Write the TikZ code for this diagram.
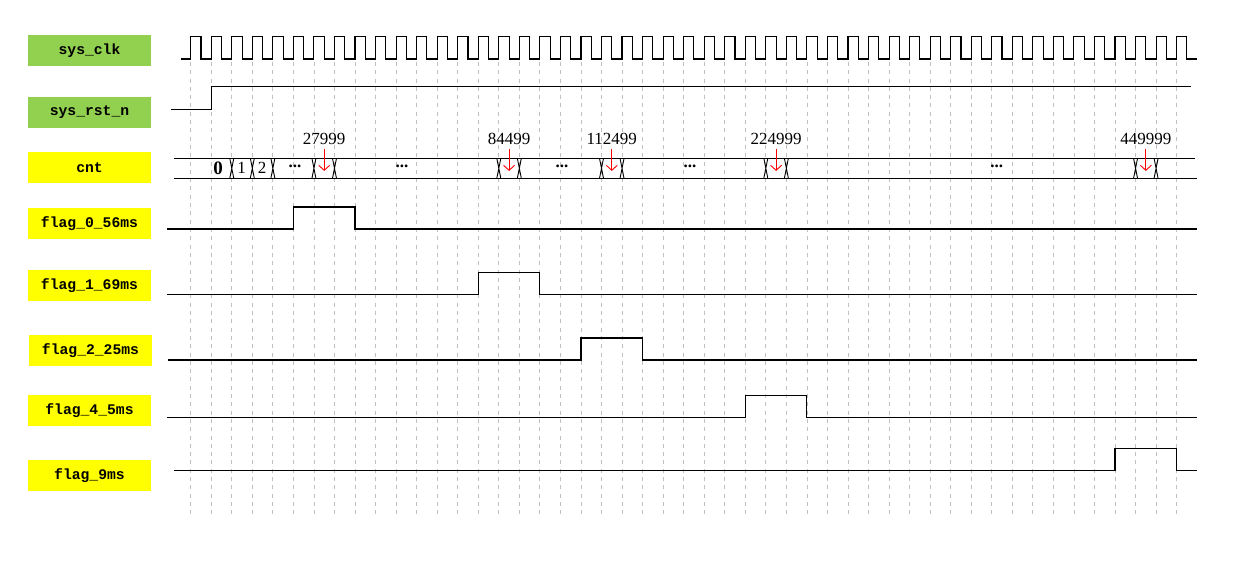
\documentclass[tikz,border=0pt]{standalone}
\usepackage{fontspec}
\setmainfont{Liberation Serif}
\newfontfamily\lblfont{Liberation Mono}
\usetikzlibrary{arrows.meta}
\definecolor{lblgreen}{HTML}{92D050}
\definecolor{lblyellow}{HTML}{FFFF00}
\tikzset{
  sig/.style={line width=1.1pt,line join=miter},
  gridline/.style={gray!50,line width=0.8pt,dash pattern=on 4pt off 4.3pt},
  lbl/.style={minimum width=123pt,minimum height=30.7pt,inner sep=0pt,
    font=\lblfont\bfseries\fontsize{14.7}{16}\selectfont},
  greenlbl/.style={lbl,fill=lblgreen},
  yellowlbl/.style={lbl,fill=lblyellow},
  numlbl/.style={font=\fontsize{17}{19}\selectfont,inner sep=1pt},
  redarrow/.style={red,line width=0.9pt,-{Straight Barb[length=5pt,width=11pt]}},
}
\begin{document}
\begin{tikzpicture}[x=1pt,y=-1pt]
    \useasboundingbox (0,0) rectangle (1236,572);
    \def\clkT{20.54}
    \def\clkX{190.7}
    % dashed lines on the rising edges
    \foreach \k in {0,...,48}
        \draw[gridline] ({\clkX+\k*\clkT},62) -- ({\clkX+\k*\clkT},515);
    % signal names
    \node[greenlbl] (clk) at (89.5,50.3) {sys\_clk};
    \node[greenlbl] (rst) at (89.5,112.3) {sys\_rst\_n};
    \node[yellowlbl] (cnt) at (89.5,167.5) {cnt};
    \node[yellowlbl] (f0) at (89.5,223.5) {flag\_0\_56ms};
    \node[yellowlbl] (f1) at (89.5,285.5) {flag\_1\_69ms};
    \node[yellowlbl] (f2) at (90.5,350.3) {flag\_2\_25ms};
    \node[yellowlbl] (f4) at (89.5,410.3) {flag\_4\_5ms};
    \node[yellowlbl] (f9) at (89.5,475.5) {flag\_9ms};
    % sys_clk
    \draw[sig] (180.7,59) -- (\clkX,59)
        \foreach \k in {0,...,48} { -- ++(0,-22.3) -- ++(\clkT/2,0) -- ++(0,22.3) -- ++(\clkT/2,0) };
    % sys_rst_n
    \draw[sig] (171,109.3) -- ({\clkX+\clkT},109.3) -- ({\clkX+\clkT},86.7) -- (1191,86.7);
    % cnt
    \draw[sig] (174,158.3) -- (1195,158.3);
    \draw[sig] (174,178.3) -- (1197,178.3);
    \foreach \k in {2,3,4,6,7,15,16,20,21,28,29,46,47}
        \draw[line width=0.9pt] ({\clkX+\k*\clkT-2},158.3) -- ({\clkX+\k*\clkT+2},178.3)
            ({\clkX+\k*\clkT+2},158.3) -- ({\clkX+\k*\clkT-2},178.3);
    \node[font=\bfseries\fontsize{19}{21}\selectfont,inner sep=0pt] (v0) at (218,168) {0};
    \node[font=\fontsize{17}{19}\selectfont,inner sep=0pt] (v1) at (241.5,168) {1};
    \node[font=\fontsize{17}{19}\selectfont,inner sep=0pt] (v2) at (262,168) {2};
    \foreach \x/\n in {295/a,402/b,562/c,690/d,996.7/e}
        \node[font=\bfseries\fontsize{17}{19}\selectfont,inner sep=0pt] (dots\n) at (\x,166) {...};
    \foreach \k/\v in {6/27999,15/84499,20/112499,28/224999,46/449999} {
        \node[numlbl] (n\v) at ({\clkX+\k*\clkT+\clkT/2},139) {\v};
        \draw[redarrow] ([yshift=-3pt]n\v.south) -- ++(0,22);
    }
    % flags
    \foreach \yl/\a/\b/\xs in {229/5/8/167,294.7/14/17/167,360/19/22/168,417.3/27/30/167,470.3/45/48/174}
        \draw[sig] (\xs,\yl) -- ({\clkX+\a*\clkT},\yl) -- ({\clkX+\a*\clkT},{\yl-22})
            -- ({\clkX+\b*\clkT},{\yl-22}) -- ({\clkX+\b*\clkT},\yl) -- (1197,\yl);
\end{tikzpicture}
\end{document}
